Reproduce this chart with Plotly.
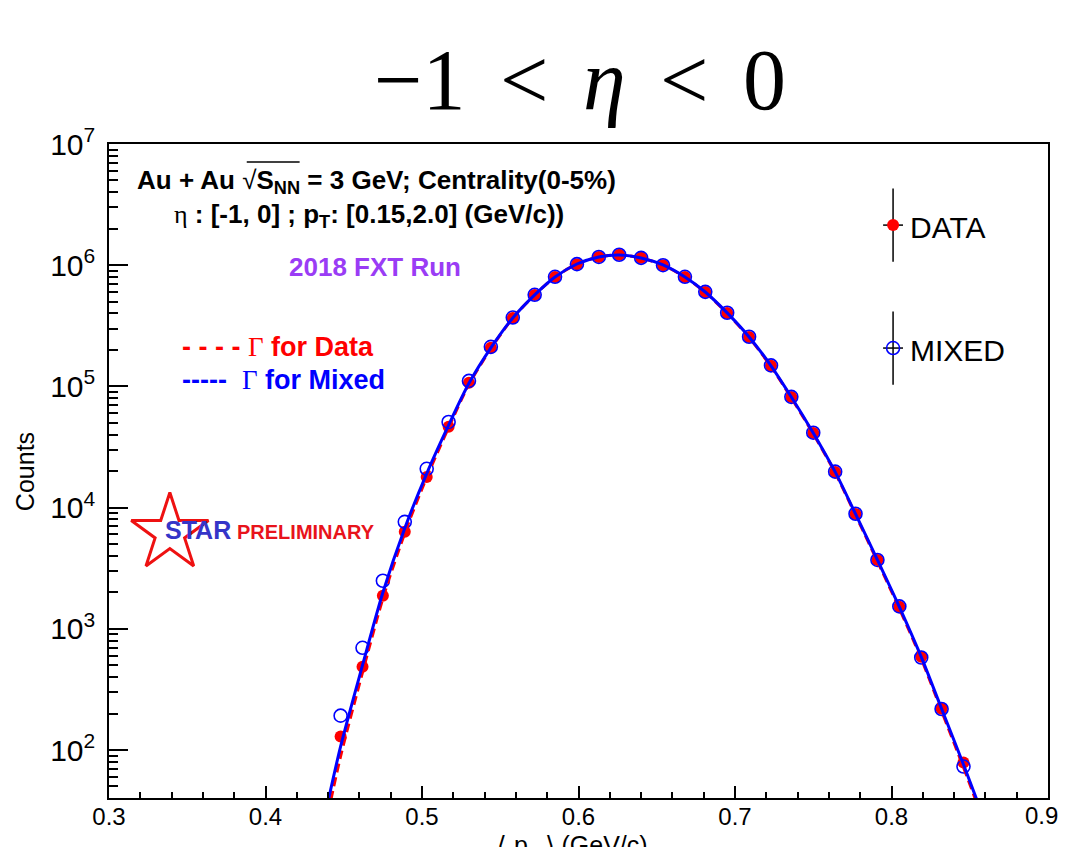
import plotly.graph_objects as go

# ---------------- data ----------------
x_pts = [0.448, 0.462, 0.475, 0.489, 0.503, 0.517, 0.530, 0.544, 0.558, 0.572,
         0.585, 0.599, 0.613, 0.626, 0.640, 0.654, 0.668, 0.681, 0.695, 0.709,
         0.723, 0.736, 0.750, 0.764, 0.777, 0.791, 0.805, 0.819, 0.832, 0.846]

data_counts = [129, 486, 1870, 6310, 17900, 46400, 107000, 208000, 367000, 569000,
               800000, 1020000, 1170000, 1220000, 1150000, 1000000, 800000, 601000, 404000, 256000,
               148000, 81900, 41300, 19700, 8870, 3700, 1520, 587, 219, 79]

mixed_counts = [192, 697, 2490, 7630, 20900, 50900, 111000, 212000, 370000, 570000,
                802000, 1020000, 1170000, 1220000, 1150000, 1000000, 802000, 603000, 405000, 257000,
                149000, 82000, 41500, 19800, 8900, 3700, 1530, 580, 218, 73]

fit_x = [0.438, 0.448, 0.462, 0.475, 0.489, 0.503, 0.517, 0.530, 0.544, 0.558,
         0.572, 0.585, 0.599, 0.613, 0.626, 0.640, 0.654, 0.668, 0.681, 0.695,
         0.709, 0.723, 0.736, 0.750, 0.764, 0.777, 0.791, 0.805, 0.819, 0.832,
         0.846, 0.858]

fit_mixed = [28.8, 107, 501, 1995, 6760, 19100, 47900, 106000, 208000, 367000,
             569000, 800000, 1023000, 1170000, 1216000, 1148000, 1005000, 800000, 601000, 404000,
             256000, 148000, 81800, 41300, 19700, 8870, 3710, 1520, 587, 219,
             76, 29.5]

fit_data = [22.9, 89, 437, 1780, 6170, 17800, 45700, 104000, 205000, 366000,
            568000, 798000, 1023000, 1170000, 1216000, 1148000, 1002000, 796000, 597000, 400000,
            253000, 146000, 80500, 40600, 19400, 8710, 3610, 1470, 568, 210,
            72, 27.5]

x_ticks = [0.3, 0.4, 0.5, 0.6, 0.7, 0.8, 0.9]

SANS = "Liberation Sans, Arial, Helvetica, sans-serif"
SERIF = "Liberation Serif, Times New Roman, serif"
RED = "#ff0000"
BLUE = "#0000ff"

fig = go.Figure()

# data points
fig.add_trace(go.Scatter(x=x_pts, y=data_counts, mode="markers", name="DATA",
                         marker=dict(symbol="circle", size=12, color=RED,
                                     line=dict(width=0))))
fig.add_trace(go.Scatter(x=x_pts, y=mixed_counts, mode="markers", name="MIXED",
                         marker=dict(symbol="circle-open", size=13, color=BLUE,
                                     line=dict(width=1.6, color=BLUE))))
# fits
fig.add_trace(go.Scatter(x=fit_x, y=fit_data, mode="lines", name="Γ for Data",
                         line=dict(color=RED, width=3, dash="9px,5px",
                                   shape="spline", smoothing=0.8)))
fig.add_trace(go.Scatter(x=fit_x, y=fit_mixed, mode="lines", name="Γ for Mixed",
                         line=dict(color=BLUE, width=3,
                                   shape="spline", smoothing=0.8)))

# overlay axis (plot-fraction coordinates) for legend markers and star logo
fig.add_trace(go.Scatter(x=[0.835], y=[0.876], mode="markers", xaxis="x2", yaxis="y2",
                         marker=dict(symbol="circle", size=12, color=RED),
                         error_y=dict(type="constant", value=0.056, width=0, thickness=1.5, color="black"),
                         error_x=dict(type="constant", value=0.0106, width=0, thickness=1.5, color="black"),
                         showlegend=False))
fig.add_trace(go.Scatter(x=[0.835], y=[0.688], mode="markers", xaxis="x2", yaxis="y2",
                         marker=dict(symbol="circle-open", size=13, color=BLUE,
                                     line=dict(width=1.6, color=BLUE)),
                         error_y=dict(type="constant", value=0.056, width=0, thickness=1.5, color="black"),
                         error_x=dict(type="constant", value=0.0106, width=0, thickness=1.5, color="black"),
                         showlegend=False))
fig.add_trace(go.Scatter(x=[0.0648], y=[0.405], mode="markers", xaxis="x2", yaxis="y2",
                         marker=dict(symbol="star-open", size=58, color="#ee1111",
                                     line=dict(width=3, color="#ee1111")),
                         showlegend=False))

# page body has an 8px margin: the figure is sized to fit inside the window
# and margins are set so the plot box lands at x 109..1050, y 144..798
fig.update_layout(
    width=1054, height=839,
    margin=dict(l=101, r=12, t=136, b=49),
    paper_bgcolor="white", plot_bgcolor="white",
    showlegend=False,
    font=dict(family=SANS, color="black"),
    xaxis=dict(range=[0.3, 0.9], tickmode="array", tickvals=x_ticks,
               ticktext=[f"{v:.1f}" if v < 0.85 else "" for v in x_ticks],
               ticks="inside", ticklen=12, tickwidth=1.5, tickcolor="black",
               showline=True, linecolor="black", linewidth=2, mirror=True,
               showgrid=False, zeroline=False,
               tickfont=dict(family=SANS, size=24, color="black"),
               ticklabelstandoff=-4,
               minor=dict(ticks="inside", ticklen=6, tickwidth=1.5, tickcolor="black",
                          dtick=0.02, tick0=0.3, showgrid=False)),
    yaxis=dict(type="log", range=[1.604, 7], dtick=1, exponentformat="power",
               ticks="inside", ticklen=19, tickwidth=1.5, tickcolor="black",
               showline=True, linecolor="black", linewidth=2, mirror=True,
               showgrid=False, zeroline=False,
               tickfont=dict(family=SANS, size=24, color="black"),
               ticklabelstandoff=7,
               minor=dict(ticks="inside", ticklen=9, tickwidth=1.5, tickcolor="black",
                          dtick="D1", showgrid=False)),
    xaxis2=dict(overlaying="x", range=[0, 1], visible=False, fixedrange=True),
    yaxis2=dict(overlaying="y", range=[0, 1], visible=False, fixedrange=True),
)

sp = "\u2009\u2009"
ann = []
# last x tick label, kept inside the page edge
ann.append(dict(text=f"{x_ticks[-1]:.1f}", x=1.0127, y=-0.026, xref="paper", yref="paper",
                xanchor="right", yanchor="middle", showarrow=False,
                font=dict(family=SANS, size=24, color="black")))
# title
ann.append(dict(text=f"\u22121{sp}<{sp}<i>\u03b7</i>{sp}<{sp}0",
                x=0.5016, y=1.098, xref="paper", yref="paper",
                xanchor="center", yanchor="middle", showarrow=False,
                font=dict(family=SERIF, size=86, color="black")))
# axis titles
ann.append(dict(text="\u27e8 p<sub>_</sub> \u27e9 (GeV/c)", x=0.494, y=-0.076,
                xref="paper", yref="paper", xanchor="center", yanchor="middle",
                showarrow=False, font=dict(family=SANS, size=25, color="black")))
ann.append(dict(text="Counts", x=-0.0893, y=0.4985, xref="paper", yref="paper",
                xanchor="center", yanchor="middle", textangle=-90, showarrow=False,
                font=dict(family=SANS, size=25, color="black")))
# info text
ann.append(dict(text="<b>Au + Au </b>\u221a<b>S<sub>NN</sub> = 3 GeV; Centrality(0-5%)</b>",
                x=0.0276, y=0.942, xref="paper", yref="paper", xanchor="left",
                yanchor="middle", showarrow=False,
                font=dict(family=SANS, size=26, color="black")))
ann.append(dict(text="<span style='font-family:Liberation Serif'>\u03b7</span>"
                     "<b> : [-1, 0] ; p<sub>T</sub>: [0.15,2.0] (GeV/c))</b>",
                x=0.067, y=0.891, xref="paper", yref="paper", xanchor="left",
                yanchor="middle", showarrow=False,
                font=dict(family=SANS, size=26, color="black")))
ann.append(dict(text="<b>2018 FXT Run</b>", x=0.190, y=0.812, xref="paper", yref="paper",
                xanchor="left", yanchor="middle", showarrow=False,
                font=dict(family=SANS, size=26, color="#9a3cf5")))
# fit legend
ann.append(dict(text="<b>- - - - </b><span style='font-family:Liberation Serif'>\u0393</span><b> for Data</b>",
                x=0.0755, y=0.690, xref="paper", yref="paper", xanchor="left",
                yanchor="middle", showarrow=False,
                font=dict(family=SANS, size=27, color=RED)))
ann.append(dict(text="<b>-----  </b><span style='font-family:Liberation Serif'>\u0393</span><b> for Mixed</b>",
                x=0.0755, y=0.639, xref="paper", yref="paper", xanchor="left",
                yanchor="middle", showarrow=False,
                font=dict(family=SANS, size=27, color=BLUE)))
# data legend
ann.append(dict(text="DATA", x=0.851, y=0.873, xref="paper", yref="paper",
                xanchor="left", yanchor="middle", showarrow=False,
                font=dict(family=SANS, size=30, color="black")))
ann.append(dict(text="MIXED", x=0.851, y=0.685, xref="paper", yref="paper",
                xanchor="left", yanchor="middle", showarrow=False,
                font=dict(family=SANS, size=30, color="black")))
# STAR preliminary
ann.append(dict(text="<b>STAR</b>", x=0.0574, y=0.410, xref="paper", yref="paper",
                xanchor="left", yanchor="middle", showarrow=False,
                font=dict(family=SANS, size=25, color="#3535c8")))
ann.append(dict(text="<b>PRELIMINARY</b>", x=0.134, y=0.407, xref="paper", yref="paper",
                xanchor="left", yanchor="middle", showarrow=False,
                font=dict(family=SANS, size=20, color="#e8131b")))
fig.update_layout(annotations=ann)

# overline of the square root
fig.add_shape(type="line", xref="paper", yref="paper", x0=0.1467, x1=0.203,
              y0=0.9725, y1=0.9725, line=dict(color="black", width=1.5))

fig.write_html("out.html")
